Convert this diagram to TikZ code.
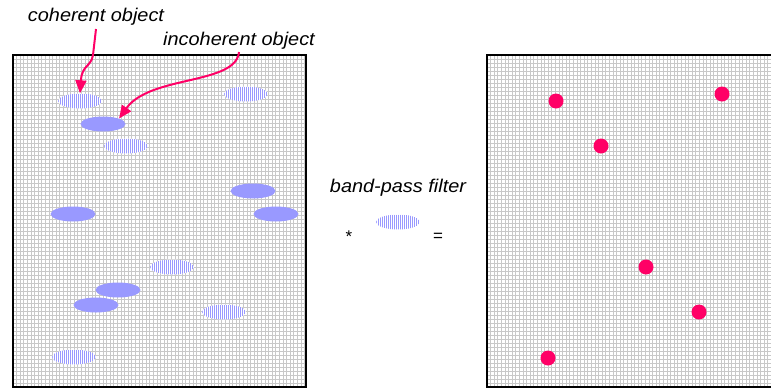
\documentclass[tikz,border=0pt]{standalone}
\usepackage{fontspec}
\setmainfont{Liberation Sans}
\newfontfamily\labfont[FakeStretch=1.08]{Liberation Sans}
\usetikzlibrary{shapes.geometric,arrows.meta}
\definecolor{mag}{HTML}{FF0066}
\definecolor{blob}{HTML}{9999FF}
\definecolor{gridc}{HTML}{C8C8C8}
\tikzset{
 solidobj/.style={ellipse, fill=blob, minimum width=45bp, minimum height=15bp, inner sep=0pt},
 hatchobj/.style={ellipse, fill=white, minimum width=44bp, minimum height=15bp, inner sep=0pt,
   path picture={\foreach \k in {-11,...,11}{\draw[blob, line width=1bp] ([xshift=\k*2bp+0.5bp]path picture bounding box.north) -- ([xshift=\k*2bp+0.5bp]path picture bounding box.south);}}},
 peak/.style={circle, fill=mag, minimum size=15bp, inner sep=0pt},
 lbl/.style={font=\labfont\itshape\fontsize{18.5}{20}\selectfont, inner sep=0pt, anchor=base},
 sym/.style={font=\fontsize{17}{19}\selectfont, inner sep=0pt},
 pointer/.style={draw=mag, line width=2bp, -{Triangle[length=13bp,width=11bp]}},
 frame/.style={draw=black, line width=2bp},
 gridline/.style={gridc, line width=1bp},
}
\begin{document}
\begin{tikzpicture}[x=1bp,y=-1bp]
\useasboundingbox (0,0) rectangle (771,388);
% left grid
\begin{scope}
\clip (13,55) rectangle (306,387);
\foreach \i in {0,...,82} {\pgfmathsetmacro\gx{13.5+floor(\i*3.6)}\draw[gridline] (\gx,55) -- (\gx,387);}
\foreach \j in {0,...,83} \draw[gridline] (13,55.5+\j*4) -- (306,55.5+\j*4);
\end{scope}
% right grid
\begin{scope}
\clip (487,55) rectangle (771,387);
\foreach \i in {0,...,80} {\pgfmathsetmacro\gx{487.5+floor(\i*3.6)}\draw[gridline] (\gx,55) -- (\gx,387);}
\foreach \j in {0,...,83} \draw[gridline] (487,55.5+\j*4) -- (771,55.5+\j*4);
\end{scope}
\draw[frame] (13,55) rectangle (306,387);
\draw[frame] (776,55) -- (487,55) -- (487,387) -- (776,387);
% coherent objects (hatched)
\node[hatchobj] (c1) at (80,101) {};
\node[hatchobj] (c2) at (246,94) {};
\node[hatchobj] (c3) at (126,146) {};
\node[hatchobj] (c4) at (172,267) {};
\node[hatchobj] (c5) at (224,312) {};
\node[hatchobj] (c6) at (74,357) {};
% incoherent objects (solid)
\node[solidobj] (s1) at (103,124) {};
\node[solidobj] (s2) at (253,191) {};
\node[solidobj] (s3) at (73,214) {};
\node[solidobj] (s4) at (276,214) {};
\node[solidobj] (s5) at (118,290) {};
\node[solidobj] (s6) at (96,305) {};
% peaks
\node[peak] (p1) at (556,101) {};
\node[peak] (p2) at (722,94) {};
\node[peak] (p3) at (601,146) {};
\node[peak] (p4) at (646,267) {};
\node[peak] (p5) at (699,312) {};
\node[peak] (p6) at (548,358) {};
% labels
\node[lbl] (coh) at (96,21.5) {coherent object};
\node[lbl] (inc) at (239,45) {incoherent object};
\node[lbl] (bp) at (398,192.5) {band-pass filter};
\node[hatchobj] (filt) at (398,222) {};
\node[sym] (ast) at (349,237) {*};
\node[sym] (eq) at (438,237) {=};
% arrows
\coordinate (cohs) at (96,29);
\coordinate (incs) at (239,52);
\draw[pointer] (cohs) -- (93,55) .. controls (91,67) and (82,65) .. (81,80) -- (c1.north);
\draw[pointer] (incs) .. controls (236,85) and (150,75) .. (s1.north east);
\end{tikzpicture}
\end{document}
